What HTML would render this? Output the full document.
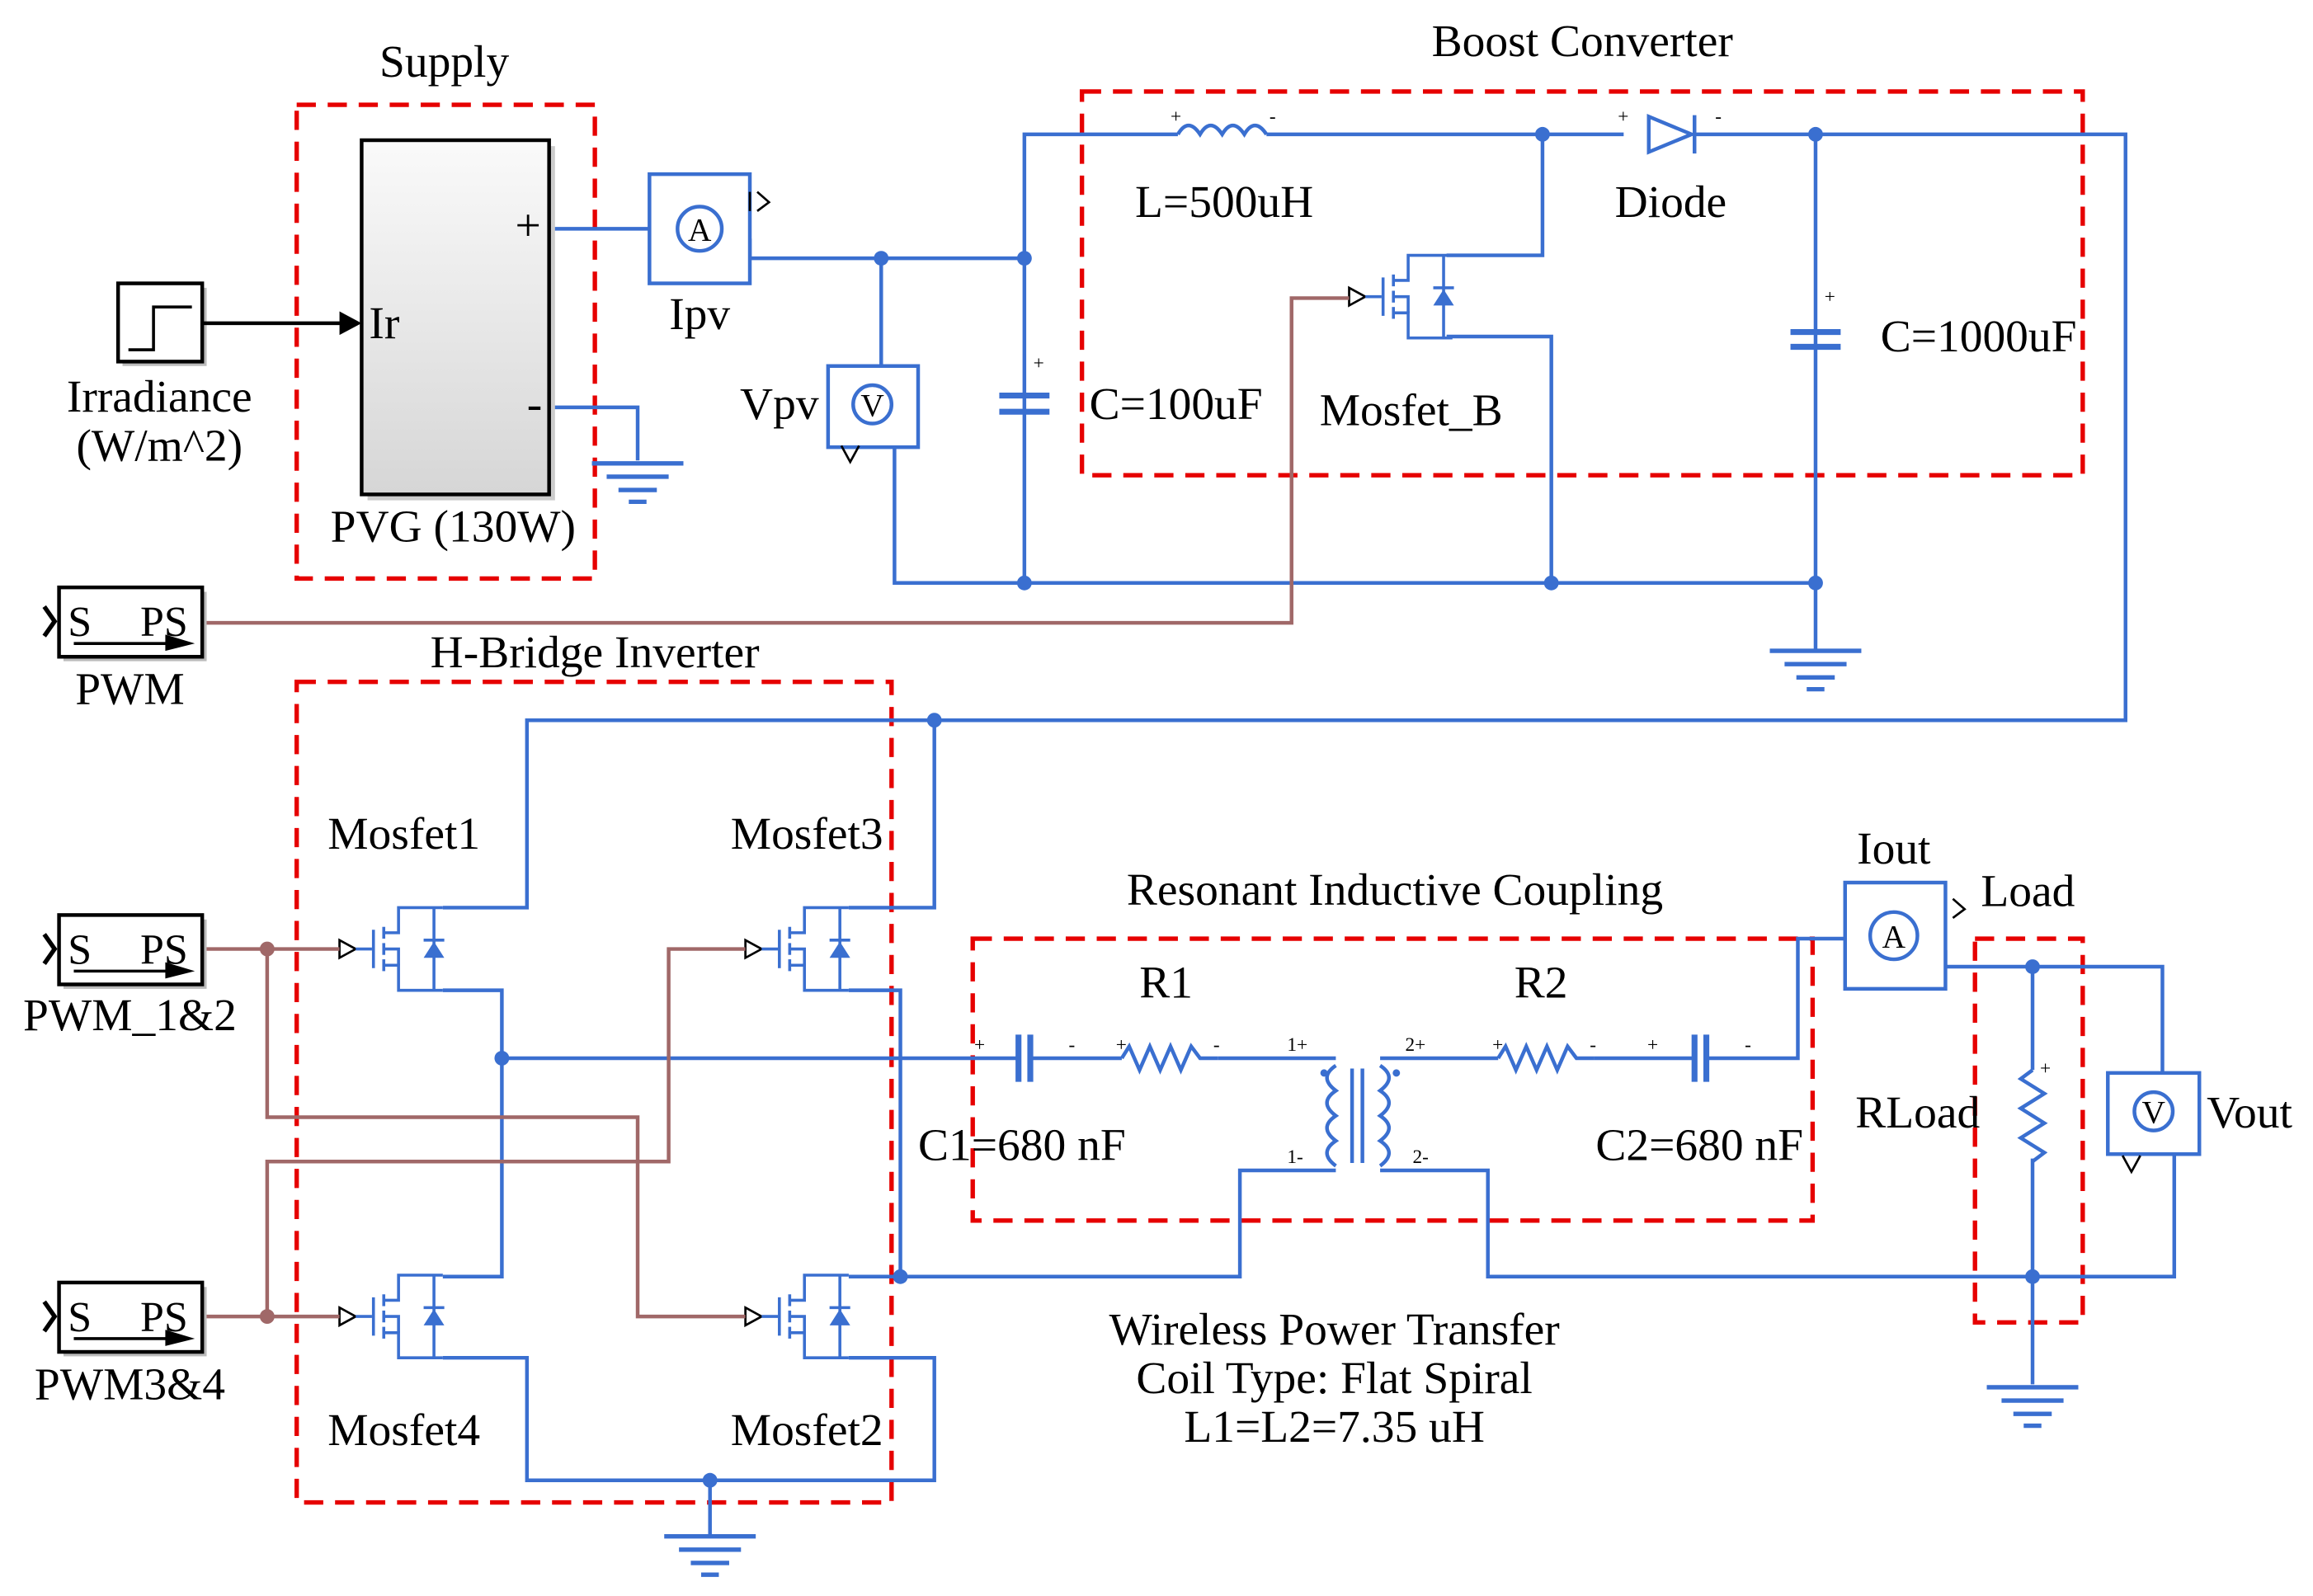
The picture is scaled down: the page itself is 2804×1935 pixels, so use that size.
<!DOCTYPE html>
<html><head><meta charset="utf-8"><style>
html,body{margin:0;padding:0;background:#fff;}
svg{display:block;}
text{font-family:"Liberation Serif",serif;fill:#000;}
</style></head><body>
<svg width="2804" height="1935" viewBox="0 0 1567 1081.4" preserveAspectRatio="none" xmlns="http://www.w3.org/2000/svg">
<defs>
<linearGradient id="pg" x1="0" y1="0" x2="0" y2="1"><stop offset="0" stop-color="#fafafa"/><stop offset="1" stop-color="#d6d6d6"/></linearGradient>
<g id="mos">
 <polygon points="0,-6 11,0 0,6" fill="#fff" stroke="#000" stroke-width="1.5"/>
 <line x1="11" y1="0" x2="22" y2="0" stroke="#3a6fd0" stroke-width="2"/>
 <line x1="23" y1="-13" x2="23" y2="13" stroke="#3a6fd0" stroke-width="2"/>
 <line x1="30" y1="-15" x2="30" y2="-7" stroke="#3a6fd0" stroke-width="2"/>
 <line x1="30" y1="-4" x2="30" y2="4" stroke="#3a6fd0" stroke-width="2"/>
 <line x1="30" y1="7" x2="30" y2="15" stroke="#3a6fd0" stroke-width="2"/>
 <polyline points="30,-11 40,-11 40,-28 70,-28" fill="none" stroke="#3a6fd0" stroke-width="2"/>
 <polyline points="30,11 40,11 40,28 70,28" fill="none" stroke="#3a6fd0" stroke-width="2"/>
 <polyline points="30,0 40,0 40,11" fill="none" stroke="#3a6fd0" stroke-width="2"/>
 <line x1="64" y1="-28" x2="64" y2="28" stroke="#3a6fd0" stroke-width="2"/>
 <polygon points="57,6 71,6 64,-5" fill="#3a6fd0"/>
 <line x1="57" y1="-6" x2="71" y2="-6" stroke="#3a6fd0" stroke-width="2"/>
</g>
<g id="gnd" stroke="#3a6fd0" stroke-width="3">
 <line x1="-31" y1="0" x2="31" y2="0"/><line x1="-21" y1="9" x2="21" y2="9"/><line x1="-13" y1="18" x2="13" y2="18"/><line x1="-6" y1="26" x2="6" y2="26"/>
</g>
<g id="pwm">
 <rect x="3" y="3" width="97" height="47" fill="#bbb"/>
 <rect x="0" y="0" width="97" height="47" fill="#fff" stroke="#000" stroke-width="2.5"/>
 <text x="6" y="33" font-size="29">S</text><text x="55" y="33" font-size="29">PS</text>
 <line x1="10" y1="38" x2="80" y2="38" stroke="#000" stroke-width="2"/><polygon points="72,32 92,38 72,43" fill="#000"/>
 <polyline points="-10,13 -3,23 -10,33" fill="none" stroke="#000" stroke-width="3"/>
</g>
</defs>

<g fill="none" stroke="#e60000" stroke-width="3" stroke-dasharray="13,8">
 <rect x="201" y="71" width="202" height="321"/>
 <rect x="733" y="62" width="678" height="260"/>
 <rect x="201" y="462" width="403" height="556"/>
 <rect x="659" y="636" width="569" height="191"/>
 <rect x="1338" y="636" width="73" height="260"/>
</g>

<g fill="none" stroke="#3a6fd0" stroke-width="2.5">
 <polyline points="372,155 458,155"/>
 <polyline points="372,276 432,276 432,312"/>
 <polyline points="500,163 508,163 508,175 694,175"/>
 <polyline points="597,175 597,258"/>
 <polyline points="595,297 606,297 606,395 1230,395"/>
 <polyline points="694,395 694,91 798,91"/>
 <polyline points="858,91 1100,91"/>
 <polyline points="1148,91 1440,91 1440,488 357,488 357,615 300,615"/>
 <polyline points="1045,91 1045,173 980,173"/>
 <polyline points="980,228 1051,228 1051,395"/>
 <polyline points="1230,91 1230,440"/>
 <polyline points="633,488 633,615 575,615"/>
 <polyline points="300,671 340,671 340,865 300,865"/>
 <polyline points="300,920 357,920 357,1003 633,1003 633,920 575,920"/>
 <polyline points="481,1003 481,1040"/>
 <polyline points="575,671 610,671 610,865 575,865"/>
 <polyline points="610,865 840,865 840,793 905,793"/>
 <polyline points="340,717 690,717"/>
 <polyline points="698,717 760,717"/>
 <polyline points="825,717 905,717"/>
 <polyline points="935,717 1015,717"/>
 <polyline points="1080,717 1148,717"/>
 <polyline points="1156,717 1218,717 1218,636 1262,636"/>
 <polyline points="1310,645 1318,645 1318,655 1465,655 1465,735"/>
 <polyline points="935,793 1008,793 1008,865 1473,865 1473,775 1460,775"/>
 <polyline points="1377,655 1377,725"/>
 <polyline points="1377,785 1377,938"/>
</g>
<g fill="none" stroke="#3a6fd0" stroke-width="2.5">
 <path d="M798,91 q7,-12 15,0 q7,-12 15,0 q7,-12 15,0 q7,-12 15,0"/>
 <path d="M760,717 l5,-8 l7,16 l7,-16 l7,16 l7,-16 l7,16 l7,-16 l6,8 l12,0"/>
 <path d="M1015,717 l5,-8 l7,16 l7,-16 l7,16 l7,-16 l7,16 l7,-16 l6,8 l12,0"/>
 <path d="M1377,725 l-8,6 l16,10 l-16,10 l16,10 l-16,10 l16,10 l-8,6"/>
 <path d="M905,722 q-12,8 0,17 q-12,8 0,17 q-12,8 0,17 q-12,8 0,17"/>
 <path d="M935,722 q12,8 0,17 q12,8 0,17 q12,8 0,17 q12,8 0,17"/>
 <line x1="916" y1="724" x2="916" y2="788"/><line x1="923" y1="724" x2="923" y2="788"/>
</g>
<g stroke="#3a6fd0" stroke-width="4">
 <line x1="677" y1="268" x2="711" y2="268"/><line x1="677" y1="279" x2="711" y2="279"/>
 <line x1="1213" y1="225" x2="1247" y2="225"/><line x1="1213" y1="235" x2="1247" y2="235"/>
 <line x1="690" y1="701" x2="690" y2="733"/><line x1="698" y1="701" x2="698" y2="733"/>
 <line x1="1148" y1="701" x2="1148" y2="733"/><line x1="1156" y1="701" x2="1156" y2="733"/>
</g>
<g stroke="#3a6fd0" stroke-width="2"><line x1="694" y1="240" x2="694" y2="268"/><line x1="694" y1="279" x2="694" y2="310"/><line x1="1230" y1="196" x2="1230" y2="262"/></g>
<polygon points="1117,79 1117,103 1146,91" fill="#fff" stroke="#3a6fd0" stroke-width="2.5"/>
<line x1="1148" y1="78" x2="1148" y2="104" stroke="#3a6fd0" stroke-width="2.5"/>
<g fill="#3a6fd0" font-size="13" font-family="Liberation Sans,sans-serif">
 <text x="793" y="83" fill="#3a6fd0">+</text><text x="860" y="83" fill="#3a6fd0">-</text>
 <text x="1096" y="83" fill="#3a6fd0">+</text><text x="1162" y="83" fill="#3a6fd0">-</text>
 <text x="700" y="250" fill="#3a6fd0">+</text><text x="1236" y="205" fill="#3a6fd0">+</text>
 <text x="660" y="712" fill="#3a6fd0">+</text><text x="724" y="712" fill="#3a6fd0">-</text>
 <text x="756" y="712" fill="#3a6fd0">+</text><text x="822" y="712" fill="#3a6fd0">-</text>
 <text x="872" y="712" fill="#3a6fd0">1+</text><text x="952" y="712" fill="#3a6fd0">2+</text>
 <text x="872" y="788" fill="#3a6fd0">1-</text><text x="957" y="788" fill="#3a6fd0">2-</text>
 <text x="1011" y="712" fill="#3a6fd0">+</text><text x="1077" y="712" fill="#3a6fd0">-</text>
 <text x="1116" y="712" fill="#3a6fd0">+</text><text x="1182" y="712" fill="#3a6fd0">-</text>
 <text x="1382" y="728" fill="#3a6fd0">+</text>
</g>
<g fill="#3a6fd0"><circle cx="897" cy="727" r="2.5"/><circle cx="946" cy="727" r="2.5"/></g>
<use href="#gnd" x="432" y="314"/><use href="#gnd" x="1230" y="441"/><use href="#gnd" x="481" y="1041"/><use href="#gnd" x="1377" y="940"/>
<g fill="#3a6fd0">
 <circle cx="597" cy="175" r="5"/><circle cx="694" cy="175" r="5"/><circle cx="694" cy="395" r="5"/><circle cx="1051" cy="395" r="5"/><circle cx="1230" cy="395" r="5"/>
 <circle cx="1045" cy="91" r="5"/><circle cx="1230" cy="91" r="5"/><circle cx="633" cy="488" r="5"/><circle cx="340" cy="717" r="5"/>
 <circle cx="610" cy="865" r="5"/><circle cx="481" cy="1003" r="5"/><circle cx="1377" cy="655" r="5"/><circle cx="1377" cy="865" r="5"/>
</g>
<g fill="#fff" stroke="#3a6fd0" stroke-width="2.5">
 <rect x="440" y="118" width="68" height="74"/><circle cx="474" cy="155" r="15"/>
 <rect x="561" y="248" width="61" height="55"/><circle cx="591" cy="274" r="13"/>
 <rect x="1250" y="598" width="68" height="72"/><circle cx="1283" cy="634" r="16"/>
 <rect x="1428" y="727" width="62" height="55"/><circle cx="1459" cy="753" r="13"/>
</g>
<g font-family="Liberation Sans,sans-serif" font-size="22" fill="#3a6fd0">
 <text x="474" y="163" text-anchor="middle" fill="#3a6fd0">A</text>
 <text x="591" y="282" text-anchor="middle" fill="#3a6fd0">V</text>
 <text x="1283" y="642" text-anchor="middle" fill="#3a6fd0">A</text>
 <text x="1459" y="761" text-anchor="middle" fill="#3a6fd0">V</text>
</g>
<g fill="none" stroke="#000" stroke-width="1.5">
 <polyline points="513,130 521,137 513,143"/><line x1="508" y1="130" x2="508" y2="143"/>
 <polyline points="1323,609 1331,616 1323,622"/>
 <polyline points="570,302 576,313 582,302"/>
 <polyline points="1438,783 1444,794 1450,783"/>
</g>
<use href="#mos" x="230" y="643"/><use href="#mos" x="230" y="892"/>
<use href="#mos" x="505" y="643"/><use href="#mos" x="505" y="892"/>
<use href="#mos" x="914" y="201"/>
<g fill="none" stroke="#a06868" stroke-width="2.5">
 <polyline points="137,422 875,422 875,202 914,202"/>
 <polyline points="137,643 230,643"/>
 <polyline points="181,643 181,757 432,757 432,892 505,892"/>
 <polyline points="137,892 230,892"/>
 <polyline points="181,892 181,787 453,787 453,643 505,643"/>
</g>
<g fill="#a06868"><circle cx="181" cy="643" r="5"/><circle cx="181" cy="892" r="5"/></g>
<use href="#pwm" x="40" y="398"/><use href="#pwm" x="40" y="620"/><use href="#pwm" x="40" y="869"/>
<rect x="83" y="195" width="57" height="53" fill="#bbb"/>
<rect x="80" y="192" width="57" height="53" fill="#fff" stroke="#000" stroke-width="2.5"/>
<polyline points="87,237 104,237 104,208 130,208" fill="none" stroke="#000" stroke-width="2"/>
<line x1="137" y1="219" x2="232" y2="219" stroke="#000" stroke-width="2.5"/>
<polygon points="230,211 245,219 230,227" fill="#000"/>
<rect x="249" y="99" width="127" height="240" fill="#ccc"/>
<rect x="245" y="95" width="127" height="240" fill="url(#pg)" stroke="#000" stroke-width="2.5"/>
<g font-size="31">
 <text x="301" y="52" text-anchor="middle">Supply</text>
 <text x="1072" y="38" text-anchor="middle">Boost Converter</text>
 <text x="108" y="279" text-anchor="middle">Irradiance</text>
 <text x="108" y="312" text-anchor="middle">(W/m^2)</text>
 <text x="250" y="229">Ir</text>
 <text x="349" y="163">+</text>
 <text x="357" y="284">-</text>
 <text x="307" y="367" text-anchor="middle">PVG (130W)</text>
 <text x="474" y="223" text-anchor="middle">Ipv</text>
 <text x="528" y="284" text-anchor="middle">Vpv</text>
 <text x="738" y="284">C=100uF</text>
 <text x="769" y="147">L=500uH</text>
 <text x="1094" y="147">Diode</text>
 <text x="894" y="288">Mosfet_B</text>
 <text x="1274" y="238">C=1000uF</text>
 <text x="88" y="477" text-anchor="middle">PWM</text>
 <text x="403" y="452" text-anchor="middle">H-Bridge Inverter</text>
 <text x="222" y="575">Mosfet1</text>
 <text x="495" y="575">Mosfet3</text>
 <text x="222" y="979">Mosfet4</text>
 <text x="495" y="979">Mosfet2</text>
 <text x="88" y="698" text-anchor="middle">PWM_1&amp;2</text>
 <text x="88" y="948" text-anchor="middle">PWM3&amp;4</text>
 <text x="945" y="613" text-anchor="middle">Resonant Inductive Coupling</text>
 <text x="790" y="676" text-anchor="middle">R1</text>
 <text x="1044" y="676" text-anchor="middle">R2</text>
 <text x="622" y="786">C1=680 nF</text>
 <text x="1081" y="786">C2=680 nF</text>
 <text x="1283" y="585" text-anchor="middle">Iout</text>
 <text x="1342" y="614">Load</text>
 <text x="1257" y="764">RLoad</text>
 <text x="1495" y="764">Vout</text>
 <text x="904" y="911" text-anchor="middle">Wireless Power Transfer</text>
 <text x="904" y="944" text-anchor="middle">Coil Type: Flat Spiral</text>
 <text x="904" y="977" text-anchor="middle">L1=L2=7.35 uH</text>
</g>
</svg>
</body></html>
